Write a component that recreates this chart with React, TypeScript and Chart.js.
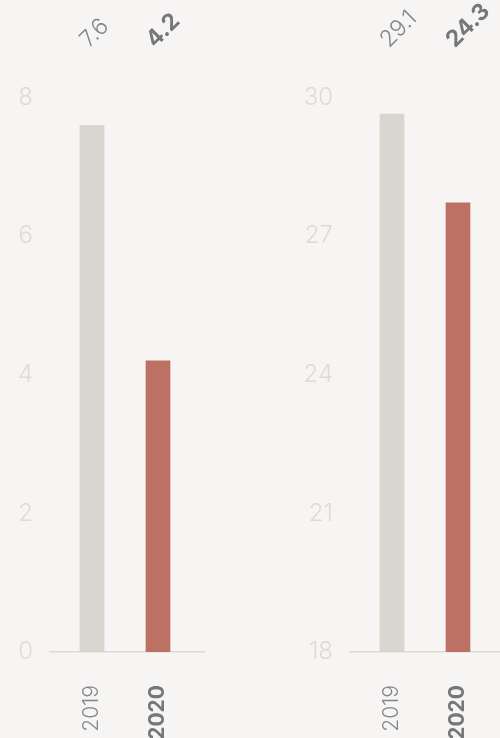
import React, { useEffect, useRef } from "react";
import { Chart, registerables } from "chart.js";

Chart.register(...registerables);

// Data
const years = ["2019", "2020"];
const leftValues = [7.6, 4.2];
const rightValues = [29.1, 24.3];
const leftTickLabels = ["0", "2", "4", "6", "8"];
const rightTickLabels = ["18", "21", "24", "27", "30"];

const BG = "#f6f5f3";
const GREY_BAR = "#d9d6d0";
const RED_BAR = "#bc7164";
const TICK_COLOR = "#dddbd6";
const AXIS_LINE = "#dedbd5";
const LABEL_GREY = "#85878b";
const LABEL_DARK = "#75777b";
const FONT = "Inter, 'Liberation Sans', sans-serif";

type PanelProps = {
  values: number[];
  tickLabels: string[];
  yMax: number;
  left: number;
};

// Draws each bar's value, slanted, in a row above the plot area.
const valueLabelPlugin = {
  id: "valueLabels",
  afterDatasetsDraw(chart: any) {
    const { ctx } = chart;
    const meta = chart.getDatasetMeta(0);
    const data = chart.data.datasets[0].data as { x: number; y: number }[];
    meta.data.forEach((bar: any, i: number) => {
      const bold = i === 1;
      ctx.save();
      ctx.translate(bar.x - 3, chart.chartArea.top - 49);
      ctx.rotate(-Math.PI / 4);
      ctx.font = `${bold ? "700" : "300"} 23px ${FONT}`;
      ctx.fillStyle = bold ? LABEL_DARK : LABEL_GREY;
      ctx.textAlign = "left";
      ctx.textBaseline = "alphabetic";
      ctx.fillText(String(data[i].y), 0, 0);
      ctx.restore();
    });
  },
};

function BarPanel({ values, tickLabels, yMax, left }: PanelProps) {
  const ref = useRef<HTMLCanvasElement | null>(null);

  useEffect(() => {
    if (!ref.current) return;
    const step = yMax / (tickLabels.length - 1);
    const chart = new Chart(ref.current, {
      type: "bar",
      data: {
        datasets: [
          {
            data: values.map((v, i) => ({ x: i, y: v })),
            backgroundColor: [GREY_BAR, RED_BAR],
            barThickness: 24,
            borderWidth: 0,
          },
        ],
      },
      plugins: [valueLabelPlugin],
      options: {
        responsive: false,
        animation: false,
        layout: { padding: { top: 97.5, right: 96, left: 0, bottom: 0 } },
        plugins: {
          legend: { display: false },
          tooltip: { enabled: false },
        },
        scales: {
          x: {
            type: "linear",
            offset: false,
            bounds: "data",
            min: -0.636,
            max: 1.697,
            grid: { display: false, drawTicks: false, offset: false },
            border: { display: true, color: AXIS_LINE, width: 1.5 },
            afterBuildTicks: (axis: any) => {
              axis.ticks = years.map((_, i) => ({ value: i }));
            },
            afterFit: (axis: any) => {
              axis.height = 86;
            },
            ticks: {
              autoSkip: false,
              minRotation: 90,
              maxRotation: 90,
              padding: 33,
              callback: (v: any) => years[v as number],
              font: (ctx: any) => ({
                family: FONT,
                size: 21,
                weight: ctx.index === 1 ? "bold" : "300",
              }),
              color: (ctx: any) => (ctx.index === 1 ? LABEL_DARK : LABEL_GREY),
            },
          },
          y: {
            min: 0,
            max: yMax,
            grid: { display: false, drawTicks: false },
            border: { display: false },
            afterBuildTicks: (axis: any) => {
              axis.ticks = tickLabels.map((_, i) => ({ value: i * step }));
            },
            afterFit: (axis: any) => {
              axis.width = 50;
            },
            ticks: {
              padding: 17,
              callback: (_v: any, i: number) => tickLabels[i],
              font: { family: FONT, size: 24, weight: "300" },
              color: TICK_COLOR,
            },
          },
        },
      },
    } as any);
    return () => chart.destroy();
  }, [values, tickLabels, yMax]);

  return (
    <div style={{ position: "absolute", left, top: 0, width: 300, height: 738 }}>
      <canvas ref={ref} width={300} height={738} style={{ width: 300, height: 738, display: "block" }} />
    </div>
  );
}

export default function App() {
  return (
    <div
      style={{
        position: "absolute",
        left: 0,
        top: 0,
        width: 500,
        height: 738,
        overflow: "hidden",
        background: BG,
      }}
    >
      <BarPanel values={leftValues} tickLabels={leftTickLabels} yMax={8} left={0} />
      <BarPanel values={rightValues} tickLabels={rightTickLabels} yMax={30} left={300} />
    </div>
  );
}
